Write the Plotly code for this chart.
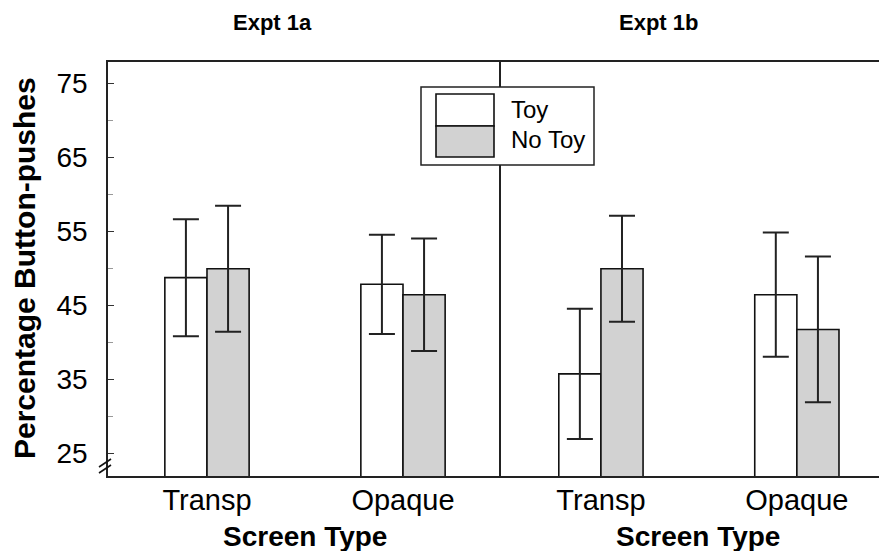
import plotly.graph_objects as go

screen_types = ["Transp", "Opaque"]
experiments = ["Expt 1a", "Expt 1b"]
series_names = ["Toy", "No Toy"]

# Percentage button-pushes (means) and error half-widths
toy_1a = [48.7, 47.8]
toy_1a_err = [7.9, 6.7]
notoy_1a = [49.9, 46.4]
notoy_1a_err = [8.5, 7.6]

toy_1b = [35.7, 46.4]
toy_1b_err = [8.8, 8.4]
notoy_1b = [49.9, 41.7]
notoy_1b_err = [7.15, 9.85]

y_ticks = [25, 35, 45, 55, 65, 75]
y_minor = [30, 40, 50, 60, 70]

# page offset (default body margin of the html page)
OFF = 8
PAGE_W, PAGE_H = 887, 551
W, H = PAGE_W - OFF, PAGE_H - OFF
# desired plot area in page pixels: left 108, top 62, bottom 476, right 887
ML, MR, MT = 108 - OFF, 0, 62 - OFF
MB = H - (476 - OFF)
PW = W - ML - MR
PH = H - MT - MB


def px(x):
    return (x - OFF - ML) / PW


def py(y):
    return (H - MB - (y - OFF)) / PH


FONT = "Liberation Sans, Arial, sans-serif"
GRAY = "#d2d2d2"

fig = go.Figure()

panels = [
    (toy_1a, toy_1a_err, notoy_1a, notoy_1a_err, "x", "y"),
    (toy_1b, toy_1b_err, notoy_1b, notoy_1b_err, "x2", "y2"),
]
for toy, toy_e, nt, nt_e, xa, ya in panels:
    for vals, errs, color, name in [(toy, toy_e, "white", series_names[0]),
                                    (nt, nt_e, GRAY, series_names[1])]:
        fig.add_trace(go.Bar(
            x=screen_types, y=vals, name=name, xaxis=xa, yaxis=ya,
            marker=dict(color=color, line=dict(color="#111", width=1.6)),
            error_y=dict(type="data", array=errs, visible=True,
                         color="#222", thickness=2, width=13),
            showlegend=False,
        ))

split = px(501)
yr = [21.9, 77.84]
fig.update_layout(
    width=W, height=H,
    margin=dict(l=ML, r=MR, t=MT, b=MB),
    paper_bgcolor="white", plot_bgcolor="white",
    barmode="group", bargap=0.57, bargroupgap=0,
    font=dict(family=FONT, color="black"),
    showlegend=False,
    xaxis=dict(domain=[0, split], range=[-0.505, 1.5], type="category",
               showline=True, linecolor="#222", linewidth=1.5, mirror=True,
               ticks="", showgrid=False, zeroline=False, ticklabelstandoff=-3,
               tickfont=dict(size=29, family=FONT)),
    xaxis2=dict(domain=[split, 1], range=[-0.51, 1.46], type="category",
                anchor="y2",
                showline=True, linecolor="#222", linewidth=1.5, mirror=True,
                ticks="", showgrid=False, zeroline=False, ticklabelstandoff=-3,
                tickfont=dict(size=29, family=FONT)),
    yaxis=dict(range=yr, tickvals=y_ticks, ticks="inside", ticklen=6,
               tickwidth=1.2, tickcolor="#333",
               minor=dict(tickvals=y_minor, ticks="inside", ticklen=5,
                          tickcolor="#999", tickwidth=1),
               showline=True, linecolor="#222", linewidth=1.5,
               showgrid=False, zeroline=False, ticklabelstandoff=13,
               tickfont=dict(size=28, family=FONT)),
    yaxis2=dict(range=yr, anchor="x2", showticklabels=False, ticks="",
                showline=True, linecolor="#222", linewidth=1.5,
                showgrid=False, zeroline=False),
)

ann = []
# panel titles
ann.append(dict(text="<b>" + experiments[0] + "</b>", x=px(272), y=py(22),
                xref="paper", yref="paper", showarrow=False,
                font=dict(size=22, family=FONT), xanchor="center", yanchor="middle"))
ann.append(dict(text="<b>" + experiments[1] + "</b>", x=px(658), y=py(22),
                xref="paper", yref="paper", showarrow=False,
                font=dict(size=22, family=FONT), xanchor="center", yanchor="middle"))
# x titles
for cx in (304.5, 698):
    ann.append(dict(text="<b>Screen Type</b>", x=px(cx), y=py(536),
                    xref="paper", yref="paper", showarrow=False,
                    font=dict(size=28, family=FONT), xanchor="center", yanchor="middle"))
# y title
ann.append(dict(text="<b>Percentage Button-pushes</b>", x=px(24), y=py(268),
                xref="paper", yref="paper", showarrow=False, textangle=-90,
                font=dict(size=30, family=FONT), xanchor="center", yanchor="middle"))
# legend text
ann.append(dict(text=series_names[0], x=px(509), y=py(110), xref="paper", yref="paper",
                showarrow=False, font=dict(size=24, family=FONT),
                xanchor="left", yanchor="middle"))
ann.append(dict(text=series_names[1], x=px(509), y=py(139), xref="paper", yref="paper",
                showarrow=False, font=dict(size=24, family=FONT),
                xanchor="left", yanchor="middle"))
fig.update_layout(annotations=ann)

shapes = []
# legend box
shapes.append(dict(type="rect", xref="paper", yref="paper",
                   x0=px(421), x1=px(594), y0=py(165), y1=py(87),
                   fillcolor="white", line=dict(color="#222", width=1.5), layer="above"))
shapes.append(dict(type="rect", xref="paper", yref="paper",
                   x0=px(436), x1=px(494), y0=py(126), y1=py(94),
                   fillcolor="white", line=dict(color="#111", width=1.6), layer="above"))
shapes.append(dict(type="rect", xref="paper", yref="paper",
                   x0=px(436), x1=px(494), y0=py(157), y1=py(126),
                   fillcolor=GRAY, line=dict(color="#111", width=1.6), layer="above"))
# axis break marks
for dy in (0, 6):
    shapes.append(dict(type="line", xref="paper", yref="paper",
                       x0=px(99), y0=py(467 + dy), x1=px(111), y1=py(459 + dy),
                       line=dict(color="#111", width=1.6), layer="above"))
fig.update_layout(shapes=shapes)

fig.write_html("out.html")
